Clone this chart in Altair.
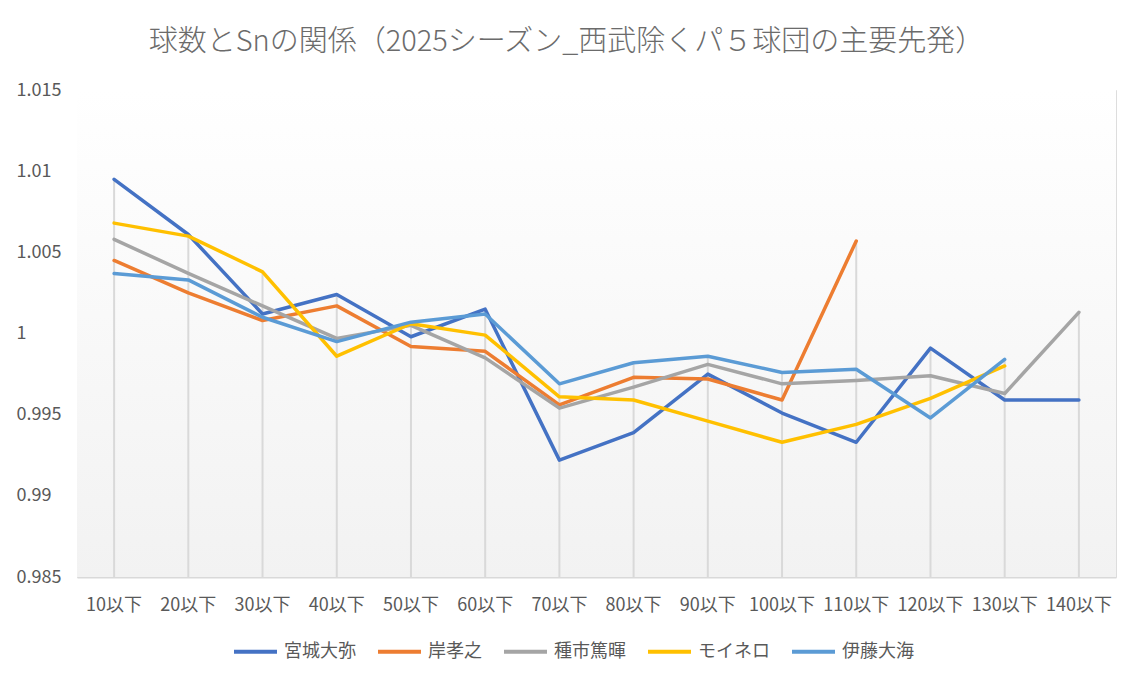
import altair as alt
import pandas as pd

categories = ["10以下", "20以下", "30以下", "40以下", "50以下", "60以下", "70以下",
              "80以下", "90以下", "100以下", "110以下", "120以下", "130以下", "140以下"]
series_names = ["宮城大弥", "岸孝之", "種市篤暉", "モイネロ", "伊藤大海"]
colors = ["#4472C4", "#ED7D31", "#A5A5A5", "#FFC000", "#5B9BD5"]

miyagi = [1.0095, 1.0061, 1.0012, 1.0024, 0.9998, 1.0015, 0.9922, 0.9939, 0.9975, 0.9951, 0.9933, 0.9991, 0.9959, 0.9959]
kishi = [1.0045, 1.0025, 1.0008, 1.0017, 0.9992, 0.9989, 0.9956, 0.9973, 0.9972, 0.9959, 1.0057, None, None, None]
taneichi = [1.0058, 1.0037, 1.0017, 0.9997, 1.0005, 0.9985, 0.9954, 0.9967, 0.9981, 0.9969, 0.9971, 0.9974, 0.9963, 1.0013]
moinero = [1.0068, 1.0060, 1.0038, 0.9986, 1.0006, 0.9999, 0.9961, 0.9959, 0.9946, 0.9933, 0.9944, 0.9960, 0.9980, None]
ito = [1.0037, 1.0033, 1.0010, 0.9995, 1.0007, 1.0012, 0.9969, 0.9982, 0.9986, 0.9976, 0.9978, 0.9948, 0.9984, None]

y_ticks = [0.985, 0.99, 0.995, 1.0, 1.005, 1.01, 1.015]

rows = []
for name, vals in zip(series_names, [miyagi, kishi, taneichi, moinero, ito]):
    for i, (c, v) in enumerate(zip(categories, vals)):
        if v is not None:
            rows.append({"cat": c, "series": name, "value": v, "order": i})
df = pd.DataFrame(rows)

FONT = "Noto Sans CJK JP"
TXT = "#595959"

x_scale = alt.Scale(type="band", domain=categories, paddingInner=0, paddingOuter=0)
x_axis = alt.Axis(title=None, labelAngle=0, ticks=False, domainColor="#D9D9D9",
                  domainWidth=2, labelPadding=19, labelFontSize=18,
                  labelColor=TXT, labelFont=FONT)
y_scale = alt.Scale(domain=[0.985, 1.015], nice=False, zero=False)

bg = alt.Chart(pd.DataFrame({"a": [0]})).mark_rect(
    color=alt.Gradient(gradient="linear", x1=0, x2=0, y1=0, y2=1,
                       stops=[alt.GradientStop(color="#FFFFFF", offset=0),
                              alt.GradientStop(color="#F2F2F2", offset=1)])
).encode(x=alt.value(0), x2=alt.value("width"), y=alt.value(0), y2=alt.value("height"))

drops = alt.Chart(df).transform_aggregate(
    maxv="max(value)", groupby=["cat"]
).transform_calculate(base="0.985").mark_rule(color="#D9D9D9", strokeWidth=2).encode(
    x=alt.X("cat:N", scale=x_scale, axis=x_axis, bandPosition=0.5),
    y=alt.Y("maxv:Q", scale=y_scale),
    y2="base:Q",
)

lines = alt.Chart(df).mark_line(strokeWidth=3.5, strokeCap="round", strokeJoin="round").encode(
    x=alt.X("cat:N", scale=x_scale, axis=x_axis, bandPosition=0.5),
    y=alt.Y("value:Q", scale=y_scale,
            axis=alt.Axis(title=None, values=y_ticks, format="~g", grid=False, domain=False,
                          ticks=False, labelAlign="left", labelPadding=61, labelFontSize=18,
                          labelColor=TXT, labelFont=FONT)),
    color=alt.Color("series:N", scale=alt.Scale(domain=series_names, range=colors),
                    legend=alt.Legend(title=None, orient="none", direction="horizontal",
                                      legendX=155, legendY=538, symbolType="stroke",
                                      symbolSize=1849, symbolStrokeWidth=4,
                                      labelFontSize=18, labelColor=TXT, labelFont=FONT,
                                      labelOffset=5, columnPadding=14)),
    order="order:Q",
)

chart = alt.layer(bg, drops, lines).properties(
    width=1039,
    height=487,
    autosize=alt.AutoSizeParams(type="none"),
    padding={"left": 69, "top": 82, "right": 16, "bottom": 99},
    title=alt.TitleParams(
        "球数とSnの関係（2025シーズン_西武除くパ５球団の主要先発）",
        fontSize=29, font=FONT, fontWeight=300, color="#6B6B6B",
        anchor="middle", dx=-30, offset=24,
    ),
).configure_view(stroke=None).configure(background="white")

chart.save("out.html", embed_options={"renderer": "svg", "actions": False})
